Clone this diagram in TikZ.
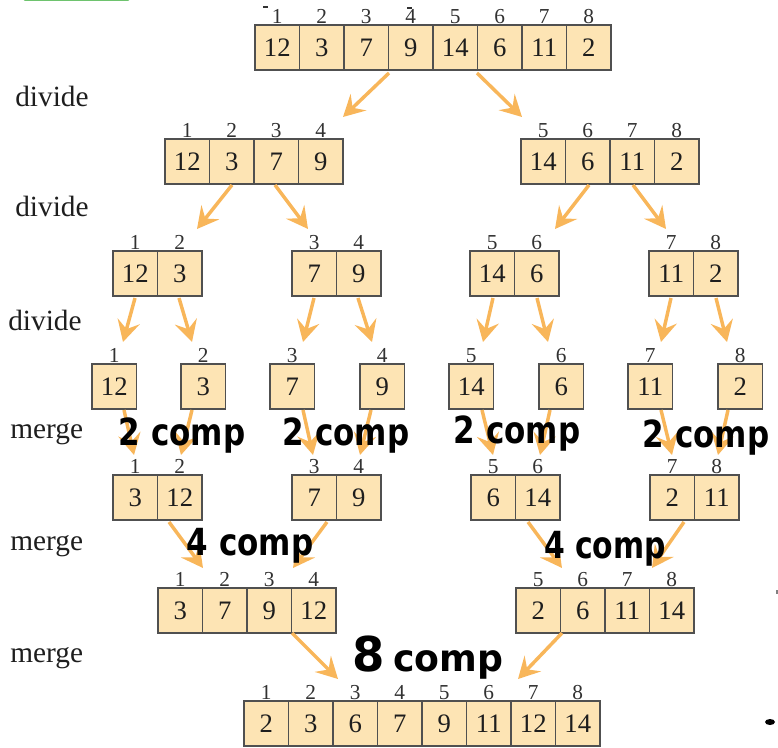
\documentclass[tikz,border=0pt]{standalone}
\usepackage{fontspec}
\setmainfont{Liberation Serif}
\newfontfamily\handfont{DejaVu Sans}
\usetikzlibrary{arrows.meta}
\definecolor{cellfill}{RGB}{253,228,180}
\definecolor{cellline}{RGB}{80,80,80}
\definecolor{arrowcol}{RGB}{248,182,90}
\definecolor{txt}{RGB}{30,30,30}
\definecolor{idxcol}{RGB}{50,50,50}
\definecolor{greenmark}{RGB}{110,195,110}
\tikzset{
  cell/.style={draw=cellline, fill=cellfill, line width=1.1pt, inner sep=0pt,
    minimum width=33.375pt, minimum height=33.75pt, text=txt,
    font=\fontsize{20pt}{20pt}\selectfont},
  idx/.style={inner sep=0pt, anchor=base, text=idxcol,
    font=\fontsize{16pt}{16pt}\selectfont},
  steplabel/.style={inner sep=0pt, anchor=west, text=txt,
    font=\fontsize{22pt}{22pt}\selectfont},
  arr/.style={draw=arrowcol, line width=2.6pt,
    -{Stealth[length=16pt,width=17pt,inset=6pt]}},
  hand/.style={inner sep=0pt, text=black,
    font=\handfont\bfseries\fontsize{28pt}{28pt}\selectfont}
}
\newcommand{\cellrow}[4]{%
  \foreach \v/\i [count=\k from 0] in {#4} {
    \node[cell] (#1-\i) at ({#2+\k*44.5+22.25},{#3+22.5}) {\v};
    \node[idx] (#1-i\i) at ({#2+\k*44.5+22.25},{#3-1.5}) {\i};
  }}
\begin{document}
\begin{tikzpicture}[x=0.75pt,y=-0.75pt]
\useasboundingbox (0,0) rectangle (778,748);
% stray marks
\draw[greenmark, line width=2pt, line cap=round] (25,0) -- (128,0);
\fill[black] (770,722) ellipse (5 and 3);
\draw[gray, line width=0.8pt] (777,590) -- (777,594);
\draw[idxcol, line width=0.8pt] (263,7) -- (268,7);
\draw[idxcol, line width=0.8pt] (407,8) -- (412,8);
% labels
\node[steplabel] (d1) at (15,96) {divide};
\node[steplabel] (d2) at (15,206) {divide};
\node[steplabel] (d3) at (8,320) {divide};
\node[steplabel] (m1) at (10,434) {merge};
\node[steplabel] (m2) at (10,546) {merge};
\node[steplabel] (m3) at (10,658) {merge};
% arrays
\cellrow{A}{255}{25}{12/1,3/2,7/3,9/4,14/5,6/6,11/7,2/8}
\cellrow{B}{165}{139}{12/1,3/2,7/3,9/4}
\cellrow{C}{521}{139}{14/5,6/6,11/7,2/8}
\cellrow{D}{113}{251}{12/1,3/2}
\cellrow{E}{292}{251}{7/3,9/4}
\cellrow{F}{470}{251}{14/5,6/6}
\cellrow{G}{649}{251}{11/7,2/8}
\cellrow{H1}{92}{364}{12/1}
\cellrow{H2}{181}{364}{3/2}
\cellrow{H3}{270}{364}{7/3}
\cellrow{H4}{360}{364}{9/4}
\cellrow{H5}{449}{364}{14/5}
\cellrow{H6}{539}{364}{6/6}
\cellrow{H7}{628}{364}{11/7}
\cellrow{H8}{718}{364}{2/8}
\cellrow{J}{113}{475}{3/1,12/2}
\cellrow{K}{292}{475}{7/3,9/4}
\cellrow{L}{471}{475}{6/5,14/6}
\cellrow{M}{650}{475}{2/7,11/8}
\cellrow{N}{158}{588}{3/1,7/2,9/3,12/4}
\cellrow{P}{516}{588}{2/5,6/6,11/7,14/8}
\cellrow{Q}{244}{701}{2/1,3/2,6/3,7/4,9/5,11/6,12/7,14/8}
% arrows
\foreach \n/\sx/\sy/\ex/\ey in {
  a1/389/73/343/117, a2/477/73/522/117,
  b1/232/185/197/229, b2/275/185/308/229, b3/589/185/555/229, b4/633/185/666/229,
  c1/135/298/123/342, c2/179/298/192/342, c3/314/298/303/342, c4/358/298/372/342,
  c5/493/298/483/342, c6/537/298/548/342, c7/671/298/661/342, c8/716/298/727/342,
  d1/124/410/134/455, d2/192/410/181/455, d3/303/410/313/455, d4/371/410/360/455,
  d5/482/410/493/455, d6/550/410/540/455, d7/661/410/672/455, d8/728/410/718/455,
  e1/169/522/203/568, e2/327/522/293/568, e3/528/522/562/568, e4/684/522/652/568,
  f1/292/633/338/679, f2/562/633/518/679} {
  \coordinate (s\n) at (\sx,\sy);
  \coordinate (e\n) at (\ex,\ey);
  \draw[arr] (s\n) -- (e\n);
}
% handwritten notes
\node[hand] (h1) at (182,436) {\scalebox{0.83}[1]{2 comp}};
\node[hand] (h2) at (346,436) {\scalebox{0.83}[1]{2 comp}};
\node[hand] (h3) at (517,434) {\scalebox{0.83}[1]{2 comp}};
\node[hand] (h4) at (706,438) {\scalebox{0.83}[1]{2 comp}};
\node[hand] (h5) at (250,546) {\scalebox{0.83}[1]{4 comp}};
\node[hand] (h6) at (605,549) {\scalebox{0.80}[1]{4 comp}};
\node[hand] (h7) at (428,658) {\scalebox{0.97}[1]{{\fontsize{36pt}{36pt}\selectfont 8}\hspace{6pt}comp}};
\end{tikzpicture}
\end{document}
